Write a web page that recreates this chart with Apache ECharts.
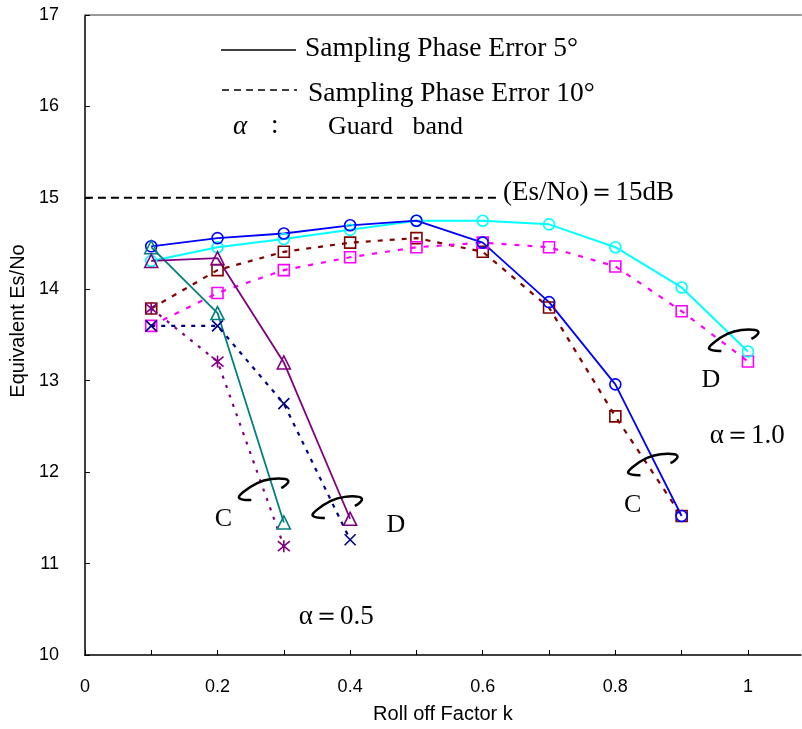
<!DOCTYPE html>
<html><head><meta charset="utf-8">
<script src="https://cdn.jsdelivr.net/npm/echarts@6/dist/echarts.min.js"></script>
<style>html,body{margin:0;padding:0;background:#fff}#c{width:802px;height:729px}</style>
</head><body><div id="c"></div>
<script>
// Roll-off factor k values
const kValues = [0.1, 0.2, 0.3, 0.4, 0.5, 0.6, 0.7, 0.8, 0.9, 1.0];
// alpha = 1.0
const a10C_5deg  = [14.47, 14.56, 14.61, 14.70, 14.75, 14.51, 13.86, 12.96, 11.52];
const a10D_5deg  = [14.31, 14.46, 14.55, 14.65, 14.75, 14.75, 14.71, 14.46, 14.02, 13.32];
const a10C_10deg = [13.79, 14.21, 14.41, 14.51, 14.56, 14.41, 13.80, 12.61, 11.52];
const a10D_10deg = [13.60, 13.96, 14.21, 14.35, 14.46, 14.51, 14.46, 14.25, 13.76, 13.21];
// alpha = 0.5
const a05C_5deg  = [14.46, 13.74, 11.45];
const a05D_5deg  = [14.31, 14.34, 13.20, 11.49];
const a05C_10deg = [13.79, 13.21, 11.19];
const a05D_10deg = [13.60, 13.60, 12.75, 11.26];
// reference level
const refLevel = 15;
const refRange = [0, 0.62];

const SANS = "'Liberation Sans',Arial,sans-serif";
const SERIF = "'Liberation Serif','Times New Roman',serif";

const toXY = arr => arr.map((v, i) => [kValues[i], v]);
const XSYM = 'path://M0,0L10,10M10,0L0,10';
const ASTSYM = 'path://M0,0L10,10M10,0L0,10M5,-1L5,11';

function mk(name, vals, color, symbol, size, lineType, width) {
  return {
    name, type: 'line', data: toXY(vals), symbol, symbolSize: size,
    lineStyle: { color, width: width || 1.8, type: lineType },
    itemStyle: { color: 'rgba(0,0,0,0)', borderColor: color, borderWidth: 1.6 },
    emphasis: { disabled: true }, animation: false
  };
}

const chart = echarts.init(document.getElementById('c'), null, { renderer: 'canvas' });
const option = {
  backgroundColor: '#fff',
  animation: false,
  grid: { left: 84, right: 1, top: 15, bottom: 65 },
  xAxis: [{
    type: 'value', min: 0, max: 1.08, interval: 0.1,
    name: 'Roll off Factor k', nameLocation: 'middle', nameGap: 49,
    nameTextStyle: { fontFamily: SANS, fontSize: 20, color: '#000' },
    axisLine: { lineStyle: { color: '#000', width: 1.5 } },
    axisTick: { inside: true, length: 5, lineStyle: { color: '#000' } },
    splitLine: { show: false },
    axisLabel: {
      margin: 23, fontFamily: SANS, fontSize: 18, color: '#000', showMaxLabel: false,
      formatter: v => { const r = Math.round(v * 10); if (r % 2) return ''; return r === 0 ? '0' : r === 10 ? '1' : (r / 10).toFixed(1); }
    }
  }, {
    type: 'value', position: 'top', min: 0, max: 1.08,
    axisLine: { show: true, lineStyle: { color: '#999', width: 2 } },
    axisTick: { show: false }, axisLabel: { show: false }, splitLine: { show: false }
  }],
  yAxis: {
    type: 'value', min: 10, max: 17, interval: 1,
    name: 'Equivalent Es/No', nameLocation: 'middle', nameGap: 56,
    nameTextStyle: { fontFamily: SANS, fontSize: 20, color: '#000', padding: [0, 0, 0, 28] },
    axisLine: { show: true, lineStyle: { color: '#000', width: 1.5 } },
    axisTick: { inside: true, length: 5, lineStyle: { color: '#000' } },
    splitLine: { show: false },
    axisLabel: { margin: 26, fontFamily: SANS, fontSize: 18, color: '#000' }
  },
  series: [
    { name: 'ref', type: 'line', data: refRange.map(x => [x, refLevel]), symbol: 'none',
      lineStyle: { color: '#000', width: 2, type: [8, 5] }, emphasis: { disabled: true } },
    mk('a10C_10', a10C_10deg, '#800000', 'rect', 11, [5, 7], 2.2),
    mk('a10D_10', a10D_10deg, '#FF00FF', 'rect', 11, [5, 8], 2.2),
    mk('a05C_10', a05C_10deg, '#800080', ASTSYM, 12, [3, 7], 2.2),
    mk('a05D_10', a05D_10deg, '#000080', XSYM, 11, [4, 6], 2.2),
    mk('a10D_5', a10D_5deg, '#00FFFF', 'circle', 11, 'solid', 2),
    mk('a10C_5', a10C_5deg, '#0000FF', 'circle', 11, 'solid', 1.8),
    mk('a05C_5', a05C_5deg, '#008080', 'triangle', 13, 'solid', 1.8),
    mk('a05D_5', a05D_5deg, '#800080', 'triangle', 13, 'solid', 1.8)
  ]
};
chart.setOption(option);

// Annotations anchored in data coordinates
const P = (x, y) => chart.convertToPixel({ xAxisIndex: 0, yAxisIndex: 0 }, [x, y]);
const arcPts = [[-12, 11], [-24, 9], [-20, 3], [-6, -6], [8, -10], [22, -10], [25, -7], [18, -1]];
function arc(cx, cy) {
  const c = P(cx, cy);
  return { type: 'polyline', shape: { points: arcPts.map(p => [c[0] + p[0], c[1] + p[1]]), smooth: 0.45 },
    style: { stroke: '#000', lineWidth: 2.5, fill: null }, z: 10 };
}
function lbl(text, x, y, size) {
  const c = P(x, y);
  return { type: 'text', x: c[0], y: c[1], style: { text, fontFamily: SERIF, fontSize: size || 26,
    fill: '#000', align: 'center', verticalAlign: 'middle' }, z: 10 };
}
const graphics = [
  arc(0.269, 11.815), arc(0.380, 11.62), arc(0.856, 12.087), arc(0.978, 13.446),
  lbl('C', 0.209, 11.49), lbl('D', 0.469, 11.42), lbl('α＝0.5', 0.379, 10.42, 27),
  lbl('D', 0.944, 13.01), lbl('α＝1.0', 0.999, 12.40, 27), lbl('C', 0.826, 11.64),
  // legend block (pixel placement)
  { type: 'line', shape: { x1: 221, y1: 50, x2: 296, y2: 50 }, style: { stroke: '#000', lineWidth: 1.5 } },
  { type: 'text', x: 305, y: 49, style: { text: 'Sampling Phase Error 5°', fontFamily: SERIF, fontSize: 27.5, fill: '#000', verticalAlign: 'middle' } },
  { type: 'line', shape: { x1: 222, y1: 90, x2: 297, y2: 90 }, style: { stroke: '#000', lineWidth: 1.5, lineDash: [7, 5] } },
  { type: 'text', x: 308, y: 94, style: { text: 'Sampling Phase Error 10°', fontFamily: SERIF, fontSize: 27.5, fill: '#000', verticalAlign: 'middle' } },
  { type: 'text', x: 233, y: 127, style: { text: 'α', fontFamily: SERIF, fontStyle: 'italic', fontSize: 27, fill: '#000', verticalAlign: 'middle' } },
  { type: 'text', x: 271, y: 126, style: { text: ':', fontFamily: SERIF, fontSize: 27, fill: '#000', verticalAlign: 'middle' } },
  { type: 'text', x: 328, y: 127, style: { text: 'Guard   band', fontFamily: SERIF, fontSize: 26, fill: '#000', verticalAlign: 'middle' } },
  { type: 'text', x: 503, y: 193, style: { text: '(Es/No)＝15dB', fontFamily: SERIF, fontSize: 27, fill: '#000', verticalAlign: 'middle' } }
];
chart.setOption({ graphic: graphics });
</script></body></html>
